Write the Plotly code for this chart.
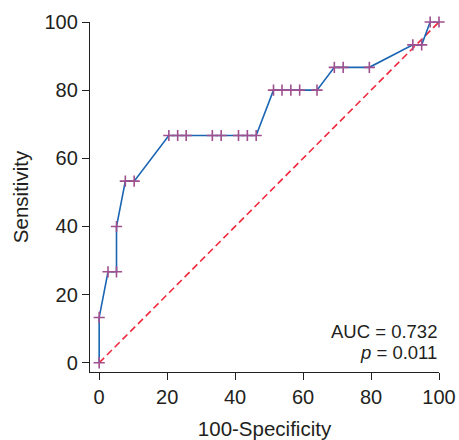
import plotly.graph_objects as go

# ROC curve points for bilirubin (100-specificity, sensitivity)
fpr = [0, 0, 2.6, 5.1, 5.1, 7.7, 10.3, 20.5, 23.1, 25.6, 33.3, 35.9, 41.0, 43.6, 46.2,
       51.3, 53.8, 56.4, 59.0, 64.1, 69.2, 71.8, 79.5, 92.3, 94.9, 97.4, 100]
tpr = [0, 13.3, 26.7, 26.7, 40.0, 53.3, 53.3, 66.7, 66.7, 66.7, 66.7, 66.7, 66.7, 66.7, 66.7,
       80.0, 80.0, 80.0, 80.0, 80.0, 86.7, 86.7, 86.7, 93.3, 93.3, 100, 100]
ref_line = [0, 100]
tick_vals = [0, 20, 40, 60, 80, 100]
auc_text = "AUC = 0.732"
p_text = "<i>p</i> = 0.011"

FONT = "Liberation Sans, Arial, sans-serif"
INK = "#231f20"

fig = go.Figure()
fig.add_trace(go.Scatter(
    x=ref_line, y=ref_line, mode="lines",
    line=dict(color="#f0283c", width=1.6, dash="7px,4px"),
    cliponaxis=False, hoverinfo="skip",
))
fig.add_trace(go.Scatter(
    x=fpr, y=tpr, mode="lines",
    line=dict(color="#1a66b3", width=1.6),
    cliponaxis=False,
))
fig.add_trace(go.Scatter(
    x=fpr, y=tpr, mode="markers",
    marker=dict(symbol="cross-thin", size=8, line=dict(color="#a0508e", width=1.6)),
    cliponaxis=False,
))

axis_common = dict(
    tickvals=tick_vals, showgrid=False, zeroline=False,
    showline=True, linecolor=INK, linewidth=1.3,
    ticks="outside", ticklen=7, tickwidth=1.3, tickcolor=INK,
    tickfont=dict(family=FONT, size=20, color=INK),
    automargin=False,
)

fig.update_layout(
    width=459, height=440,
    margin=dict(l=90, r=20, t=22, b=68),
    plot_bgcolor="white", paper_bgcolor="white",
    showlegend=False,
    xaxis=dict(range=[-2.7, 100],
               title=dict(text="100-Specificity", font=dict(family=FONT, size=20.5, color=INK), standoff=14),
               **axis_common),
    yaxis=dict(range=[-2.7, 100],
               title=dict(text="Sensitivity", font=dict(family=FONT, size=20.5, color=INK), standoff=10),
               **axis_common),
    annotations=[
        dict(x=50, y=101.5, xref="x", yref="y", text="Bilirubin", showarrow=False,
             xanchor="center", yanchor="middle",
             font=dict(family=FONT, size=20.5, color=INK)),
        dict(x=100, y=9.2, xref="x", yref="y", text=auc_text, showarrow=False,
             xanchor="right", yanchor="middle",
             font=dict(family=FONT, size=18.5, color=INK)),
        dict(x=100, y=3.0, xref="x", yref="y", text=p_text, showarrow=False,
             xanchor="right", yanchor="middle",
             font=dict(family=FONT, size=18.5, color=INK)),
    ],
)

fig.write_html("out.html")
